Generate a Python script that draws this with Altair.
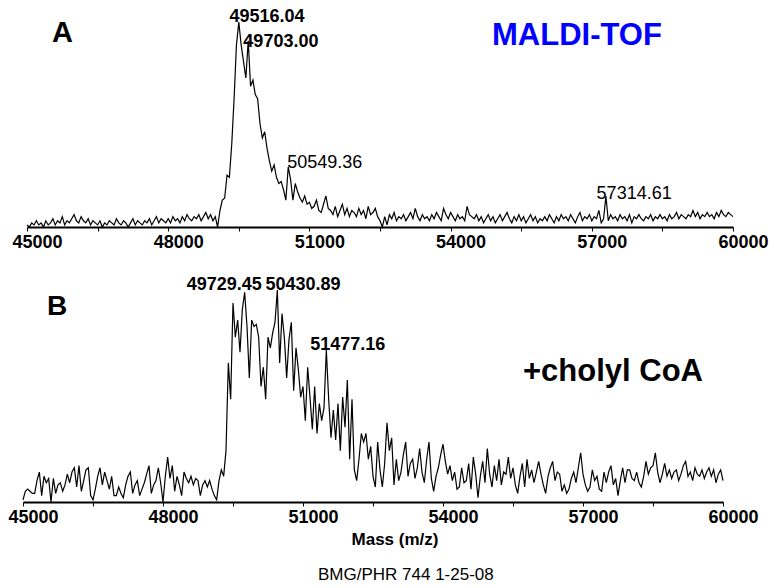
import altair as alt
import pandas as pd

FONT = "Liberation Sans"

# sampling grid of the spectra (Da)
masses = list(range(45000, 60001, 50))

# Panel A: MALDI-TOF spectrum, relative intensity (0-100)
intensity_a = [
    1, 0, 2, 1, 3, 1, 2, 0, 3, 1,
    2, 4, 1, 3, 2, 5, 1, 3, 2, 4,
    6, 3, 2, 5, 3, 2, 4, 1, 3, 2,
    1, 3, 0, 2, 1, 3, 2, 1, 4, 2,
    1, 3, 2, 0, 2, 4, 1, 3, 2, 1,
    3, 2, 4, 1, 3, 5, 2, 4, 3, 2,
    4, 2, 5, 3, 4, 2, 5, 3, 6, 4,
    3, 5, 4, 6, 3, 5, 7, 4, 6, 3,
    5, 0, 8, 13, 14, 25, 24, 40, 62, 88,
    99, 88, 80, 72, 90, 68, 71, 64, 62, 50,
    43, 46, 38, 32, 27, 30, 24, 21, 22, 18,
    13, 29, 23, 13, 21, 17, 14, 12, 15, 11,
    12, 9, 10, 13, 8, 7, 11, 15, 9, 8,
    6, 10, 5, 8, 11, 6, 9, 5, 8, 7,
    5, 9, 6, 8, 4, 10, 6, 7, 9, 5,
    3, 0, 5, 1, 6, 4, 7, 3, 5, 4,
    6, 3, 5, 7, 4, 9, 5, 3, 6, 4,
    5, 3, 6, 4, 7, 5, 3, 9, 6, 4,
    7, 5, 3, 6, 4, 5, 3, 10, 6, 5,
    4, 6, 3, 5, 2, 4, 6, 3, 5, 2,
    4, 6, 3, 5, 7, 4, 2, 5, 3, 6,
    3, 5, 2, 4, 6, 3, 5, 2, 4, 3,
    5, 3, 6, 4, 2, 5, 3, 6, 4, 5,
    3, 6, 4, 2, 5, 7, 3, 5, 4, 6,
    3, 5, 4, 8, 2, 4, 15, 3, 6, 4,
    5, 3, 6, 4, 5, 3, 6, 2, 5, 4,
    6, 4, 3, 5, 4, 6, 3, 5, 4, 6,
    4, 5, 3, 6, 4, 5, 7, 4, 6, 5,
    4, 6, 5, 8, 5, 7, 4, 6, 5, 7,
    5, 6, 4, 7, 5, 8, 6, 5, 7, 6,
    5,
]

# Panel B: + cholyl CoA
intensity_b = [
    1, 5, 6, 5, 4, 4, 10, 14, 3, 12,
    9, 11, 0, 11, 4, 8, 9, 5, 8, 13,
    9, 14, 16, 7, 17, 5, 10, 15, 16, 3,
    1, 6, 12, 16, 8, 14, 10, 6, 12, 3,
    3, 7, 4, 2, 8, 12, 14, 4, 8, 10,
    3, 6, 9, 13, 17, 4, 8, 10, 16, 9,
    0, 12, 21, 11, 17, 5, 12, 8, 3, 14,
    11, 9, 12, 8, 11, 10, 3, 8, 10, 7,
    10, 6, 3, 1, 10, 15, 12, 24, 65, 48,
    93, 77, 85, 70, 90, 98, 82, 58, 85, 82,
    83, 77, 54, 63, 48, 77, 72, 79, 84, 99,
    65, 88, 77, 58, 76, 84, 52, 72, 62, 49,
    54, 38, 63, 49, 34, 54, 32, 46, 38, 44,
    71, 48, 30, 43, 29, 46, 24, 49, 35, 57,
    20, 48, 15, 10, 20, 32, 28, 32, 20, 26,
    12, 7, 28, 15, 7, 18, 37, 24, 30, 8,
    20, 10, 14, 22, 28, 12, 18, 20, 11, 16,
    25, 14, 9, 20, 28, 11, 5, 12, 16, 22,
    27, 19, 13, 17, 10, 14, 6, 7, 16, 9,
    10, 18, 6, 21, 13, 2, 12, 19, 9, 25,
    13, 7, 17, 10, 20, 8, 14, 13, 21, 11,
    16, 8, 4, 12, 18, 7, 20, 11, 15, 9,
    14, 19, 13, 8, 4, 12, 16, 19, 10, 14,
    13, 5, 8, 4, 6, 11, 14, 9, 16, 23,
    13, 8, 5, 7, 15, 10, 12, 6, 5, 14,
    9, 14, 17, 8, 11, 3, 10, 16, 9, 15,
    15, 11, 10, 14, 9, 7, 12, 19, 13, 16,
    17, 23, 14, 9, 13, 18, 12, 15, 11, 14,
    15, 10, 13, 17, 19, 12, 14, 10, 16, 13,
    12, 15, 11, 14, 16, 12, 15, 9, 13, 15,
    10,
]

# Peak annotations
peaks_a_text = ["49516.04", "49703.00", "50549.36", "57314.61"]
peaks_a_mass = [49516.04, 49703.00, 50549.36, 57314.61]
peaks_a_height = [99, 90, 29, 15]
peaks_b_text = ["49729.45", "50430.89", "51477.16"]
peaks_b_mass = [49729.45, 50430.89, 51477.16]
peaks_b_height = [98, 99, 71]

tick_values = list(range(45000, 60001, 1500))

W, H = 774, 588


def x_axis(axis_y):
    return alt.Axis(
        values=tick_values,
        labelExpr="datum.value % 3000 === 0 ? format(datum.value, 'd') : ''",
        orient="bottom",
        offset=axis_y - H,
        title=None,
        grid=False,
        domain=True,
        ticks=True,
        labels=True,
        domainColor="black",
        domainWidth=2,
        tickColor="black",
        tickSize=4,
        tickWidth=1,
        labelFont=FONT,
        labelFontSize=18,
        labelFontWeight="bold",
        labelColor="black",
        labelOffset=10,
        labelPadding=2,
        labelFlush=False,
        labelOverlap=False,
        labelBound=False,
    )


def panel(intens, xr, yr, axis_y, p_text, p_mass, p_height, p_bold, p_dx, p_dy):
    xs = alt.Scale(domain=[45000, 60000], range=xr, nice=False, zero=False)
    ys = alt.Scale(domain=[0, 100], range=yr, nice=False)
    ax = x_axis(axis_y)
    df = pd.DataFrame({"mass": masses, "v": intens})
    line = alt.Chart(df).mark_line(color="black", strokeWidth=1.2).encode(
        x=alt.X("mass:Q", scale=xs, axis=ax),
        y=alt.Y("v:Q", scale=ys, axis=None),
    )
    layers = [line]
    for i in range(len(p_text)):
        d = pd.DataFrame({"mass": [p_mass[i]], "v": [p_height[i]], "t": [p_text[i]]})
        layers.append(
            alt.Chart(d).mark_text(
                align="left", baseline="alphabetic", dx=p_dx[i], dy=p_dy[i],
                font=FONT, fontSize=18,
                fontWeight="bold" if p_bold[i] else "normal", color="black",
            ).encode(
                x=alt.X("mass:Q", scale=xs, axis=ax),
                y=alt.Y("v:Q", scale=ys, axis=None),
                text="t:N",
            )
        )
    return alt.layer(*layers)


panel_a = panel(intensity_a, [27, 733], [227, 20], 227,
                peaks_a_text, peaks_a_mass, peaks_a_height,
                [True, True, False, False], [-10, -5, -1, -10], [0, 6, 1, 3])
panel_b = panel(intensity_b, [23, 723], [502, 288], 502,
                peaks_b_text, peaks_b_mass, peaks_b_height,
                [True, True, True], [-57, -11, -15], [-2, 0, 0])


def note(text, x, y, size, weight="bold", color="black", align="left"):
    return alt.Chart(pd.DataFrame({"t": [text]})).mark_text(
        align=align, baseline="alphabetic", font=FONT, fontSize=size,
        fontWeight=weight, color=color,
    ).encode(x=alt.value(x), y=alt.value(y), text="t:N")


notes = [
    note("A", 52, 42, 29),
    note("MALDI-TOF", 492, 45, 31, color="#0000ff"),
    note("B", 47, 315, 28),
    note("+cholyl CoA", 523, 381, 31),
    note("Mass (m/z)", 395, 545, 17, align="center"),
    note("BMG/PHR 744 1-25-08", 318, 580, 17, weight="normal"),
]

chart = alt.layer(panel_a, panel_b, *notes).resolve_scale(
    x="independent", y="independent"
).resolve_axis(x="independent", y="independent").properties(
    width=W, height=H, padding=0,
    autosize=alt.AutoSizeParams(type="none"),
    background="white",
).configure_view(stroke=None)

chart.save("out.html", embed_options={"renderer": "svg", "actions": False})
